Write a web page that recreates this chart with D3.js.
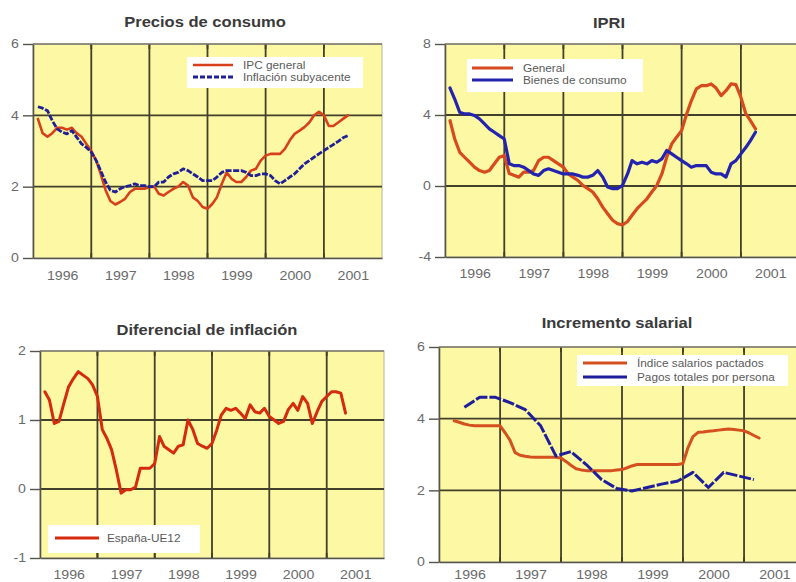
<!DOCTYPE html>
<html>
<head>
<meta charset="utf-8">
<script src="https://cdn.jsdelivr.net/npm/d3@7"></script>
<style>
  body { margin: 0; background: #ffffff; }
  svg { display: block; font-family: Arial, "Liberation Sans", sans-serif; }
</style>
</head>
<body>
<svg id="chart" width="796" height="582"></svg>
<script>
// ---- Data ----------------------------------------------------------------
const yearLabels = ["1996", "1997", "1998", "1999", "2000", "2001"];

// Precios de consumo (% interanual), mensual desde enero 1996
const ipcStart = "1996-01";
const ipcGeneral = [
  3.9, 3.5, 3.4, 3.5, 3.65, 3.65, 3.6, 3.65, 3.5, 3.4, 3.2, 3.0,
  2.73, 2.36, 1.9, 1.6, 1.5, 1.57, 1.66, 1.85, 1.94, 1.94, 1.94, 1.99,
  2.0, 1.8, 1.75, 1.85, 1.94, 2.0, 2.13, 2.03, 1.7, 1.6, 1.43, 1.38,
  1.52, 1.7, 2.08, 2.4, 2.22, 2.13, 2.13, 2.27, 2.45, 2.5, 2.73, 2.87,
  2.92, 2.92, 2.92, 3.06, 3.3, 3.48, 3.57, 3.67, 3.8, 4.0, 4.1, 4.0,
  3.7, 3.7, 3.8, 3.9, 4.0
];
const inflacionSubyacente = [
  4.24, 4.2, 4.13, 3.85, 3.62, 3.53, 3.48, 3.57, 3.39, 3.2, 3.1, 2.97,
  2.73, 2.45, 2.13, 1.9, 1.85, 1.94, 2.0, 2.03, 2.08, 2.03, 2.03, 2.0,
  2.0, 2.13, 2.13, 2.27, 2.36, 2.4, 2.5, 2.45, 2.36, 2.27, 2.17, 2.17,
  2.17, 2.27, 2.4, 2.45, 2.45, 2.45, 2.45, 2.4, 2.31, 2.31, 2.36, 2.36,
  2.31, 2.17, 2.08, 2.17, 2.27, 2.36, 2.5, 2.64, 2.73, 2.83, 2.92, 3.01,
  3.1, 3.18, 3.27, 3.37, 3.43
];

// IPRI, mensual desde enero 1996
const ipriStart = "1996-01";
const ipriGeneral = [
  3.68, 2.65, 1.9, 1.62, 1.34, 1.06, 0.87, 0.78, 0.87, 1.25, 1.62, 1.71,
  0.7, 0.6, 0.5, 0.78, 0.78, 0.87, 1.43, 1.62, 1.62, 1.43, 1.25, 1.06,
  0.68, 0.5, 0.31, 0.03, -0.15, -0.34, -0.72, -1.19, -1.56, -1.93, -2.12, -2.2,
  -2.0, -1.65, -1.28, -1.0, -0.72, -0.34, 0.03, 0.68, 1.62, 2.37, 2.75, 3.12,
  4.06, 4.8, 5.47, 5.65, 5.65, 5.75, 5.52, 5.09, 5.37, 5.75, 5.71, 5.0,
  4.06, 3.68, 3.22
];
const ipriBienesConsumo = [
  5.52, 4.9, 4.15, 4.06, 4.06, 3.97, 3.78, 3.5, 3.22, 3.03, 2.84, 2.65,
  1.25, 1.15, 1.15, 1.06, 0.87, 0.68, 0.6, 0.87, 0.97, 0.87, 0.78, 0.68,
  0.68, 0.68, 0.6, 0.5, 0.5, 0.6, 0.87, 0.5, -0.06, -0.15, -0.15, 0.03,
  0.68, 1.43, 1.25, 1.34, 1.25, 1.43, 1.34, 1.53, 2.0, 1.81, 1.62, 1.43,
  1.25, 1.06, 1.15, 1.15, 1.15, 0.78, 0.68, 0.68, 0.5, 1.25, 1.43, 1.81,
  2.18, 2.56, 3.03
];

// Diferencial de inflación España-UE12, mensual desde enero 1996
const difStart = "1996-01";
const difEspanaUE12 = [
  1.41, 1.29, 0.95, 0.98, 1.24, 1.48, 1.6, 1.7, 1.65, 1.6, 1.51, 1.34,
  0.86, 0.74, 0.57, 0.28, -0.06, -0.01, -0.01, 0.03, 0.3, 0.3, 0.3, 0.37,
  0.76, 0.62, 0.57, 0.52, 0.62, 0.64, 1.0, 0.86, 0.66, 0.62, 0.59, 0.66,
  0.86, 1.07, 1.17, 1.14, 1.17, 1.1, 1.02, 1.22, 1.12, 1.1, 1.17, 1.05,
  1.0, 0.95, 0.98, 1.15, 1.24, 1.14, 1.34, 1.24, 0.95, 1.12, 1.27, 1.34,
  1.41, 1.41, 1.39, 1.1
];

// Incremento salarial: convenios (mensual desde marzo 1996), pagos (trimestral desde I-1996)
const pactadosStart = "1996-03";
const salariosPactados = [
  3.94, 3.9, 3.85, 3.82, 3.8, 3.8, 3.8, 3.8, 3.8, 3.8,
  3.6, 3.4, 3.05, 2.98, 2.95, 2.93, 2.92, 2.92, 2.92, 2.92, 2.92, 2.9,
  2.8, 2.7, 2.6, 2.57, 2.55, 2.55, 2.55, 2.55, 2.55, 2.55, 2.57, 2.58,
  2.63, 2.68, 2.72, 2.72, 2.72, 2.72, 2.72, 2.72, 2.72, 2.72, 2.72, 2.75,
  3.2, 3.5, 3.62, 3.63, 3.65, 3.66, 3.68, 3.7, 3.71, 3.7, 3.68, 3.66,
  3.6, 3.53, 3.46
];
const pagosStart = "1996-03";
const pagosPorPersona = [
  4.32, 4.6, 4.6, 4.45,
  4.25, 3.8, 2.96, 3.08,
  2.72, 2.3, 2.05, 1.98,
  2.08, 2.18, 2.26, 2.5,
  2.08, 2.5, 2.4, 2.3
];

// ---- Drawing -------------------------------------------------------------
const svg = d3.select("#chart");
const parseMonth = d3.timeParse("%Y-%m");
const STRETCH = 1.18;

const BG = "#fcf8a4";
const GRID = "#423f2b";
const AXIS = "#55544a";

// each observation is placed at the end of its period
function toPoints(values, start, stepMonths) {
  const s = parseMonth(start);
  return values.map((v, i) => ({ date: d3.timeMonth.offset(s, i * stepMonths + stepMonths), value: v }));
}

// plain hyphen for negative tick labels
const tickFmt = d => (d < 0 ? "-" : "") + Math.abs(d);

const panels = [
  {
    title: "Precios de consumo", titleX: 205, titleY: 27,
    left: 33, right: 382, top: 44, bottom: 258,
    yDomain: [0, 6], yTicks: [0, 2, 4, 6], labelY: 280,
    legend: { x: 187, y: 57, w: 176, h: 31, lineX: 193, lineLen: 40, textX: 243, rowY: [65, 77] },
    series: [
      { name: "IPC general", values: ipcGeneral, start: ipcStart, step: 1, color: "#d8401c", width: 2.6 },
      { name: "Inflación subyacente", values: inflacionSubyacente, start: ipcStart, step: 1, color: "#1f1f96", width: 2.8, dash: "6,1.6", legendDash: "5,2" }
    ]
  },
  {
    title: "IPRI", titleX: 609, titleY: 28,
    left: 445, right: 800, top: 44, bottom: 257,
    yDomain: [-4, 8], yTicks: [-4, 0, 4, 8], labelY: 278,
    legend: { x: 467, y: 59, w: 176, h: 33, lineX: 472, lineLen: 41, textX: 523, rowY: [68, 80] },
    series: [
      { name: "General", values: ipriGeneral, start: ipriStart, step: 1, color: "#d64a1e", width: 3.2 },
      { name: "Bienes de consumo", values: ipriBienesConsumo, start: ipriStart, step: 1, color: "#2323b0", width: 3.2 }
    ]
  },
  {
    title: "Diferencial de inflación", titleX: 207, titleY: 335,
    left: 40, right: 384, top: 351, bottom: 558,
    yDomain: [-1, 2], yTicks: [-1, 0, 1, 2], labelY: 579,
    legend: { x: 48, y: 525, w: 152, h: 28, lineX: 55, lineLen: 44, textX: 107, rowY: [538] },
    series: [
      { name: "España-UE12", values: difEspanaUE12, start: difStart, step: 1, color: "#d42a0e", width: 3.0 }
    ]
  },
  {
    title: "Incremento salarial", titleX: 617, titleY: 328,
    left: 439, right: 805, top: 347, bottom: 562,
    yDomain: [0, 6], yTicks: [0, 2, 4, 6], labelY: 579,
    legend: { x: 577, y: 355, w: 211, h: 31, lineX: 583, lineLen: 44, textX: 637, rowY: [363, 377] },
    series: [
      { name: "Índice salarios pactados", values: salariosPactados, start: pactadosStart, step: 1, color: "#d4501e", width: 3.0 },
      { name: "Pagos totales por persona", values: pagosPorPersona, start: pagosStart, step: 3, color: "#1e1e9a", width: 3.0, dash: "12,2" }
    ]
  }
];

function drawPanel(p) {
  const g = svg.append("g");
  const x = d3.scaleTime()
    .domain([new Date(1996, 0, 1), new Date(2002, 0, 1)])
    .range([p.left, p.right]);
  const y = d3.scaleLinear().domain(p.yDomain).range([p.bottom, p.top]);
  const yearStarts = yearLabels.map(s => new Date(+s, 0, 1));
  const yearMids = yearLabels.map(s => new Date(+s, 6, 2));
  const innerStarts = yearStarts.slice(1);
  const innerY = p.yTicks.slice(1, -1);

  // plot background
  g.append("rect")
    .attr("x", p.left).attr("y", p.top)
    .attr("width", p.right - p.left).attr("height", p.bottom - p.top)
    .attr("fill", BG).attr("stroke", "#b5b399").attr("stroke-width", 1);

  // grid
  g.append("g").selectAll("line").data(innerY).join("line")
    .attr("x1", p.left).attr("x2", p.right)
    .attr("y1", d => y(d)).attr("y2", d => y(d))
    .attr("stroke", GRID).attr("stroke-width", 1.8);
  g.append("g").selectAll("line").data(innerStarts).join("line")
    .attr("x1", d => x(d)).attr("x2", d => x(d))
    .attr("y1", p.top).attr("y2", p.bottom)
    .attr("stroke", GRID).attr("stroke-width", 1.8);

  // legend box (covers grid)
  const L = p.legend;
  const lg = g.append("g");
  lg.append("rect").attr("x", L.x).attr("y", L.y).attr("width", L.w).attr("height", L.h)
    .attr("fill", "#ffffff");
  p.series.forEach((s, i) => {
    lg.append("line")
      .attr("x1", L.lineX).attr("x2", L.lineX + L.lineLen)
      .attr("y1", L.rowY[i]).attr("y2", L.rowY[i])
      .attr("stroke", s.color).attr("stroke-width", s.width)
      .attr("stroke-dasharray", s.legendDash || null);
    lg.append("text")
      .attr("class", "stretch")
      .attr("x", L.textX).attr("y", L.rowY[i] + 3.5)
      .attr("font-size", 10).attr("fill", "#5a5a5a")
      .text(s.name);
  });

  // short tick marks along top and bottom edges at year boundaries
  g.append("g").selectAll("line").data(innerStarts).join("line")
    .attr("x1", d => x(d)).attr("x2", d => x(d))
    .attr("y1", p.top).attr("y2", p.top + 5)
    .attr("stroke", GRID).attr("stroke-width", 1.8);
  g.append("g").selectAll("line").data(innerStarts).join("line")
    .attr("x1", d => x(d)).attr("x2", d => x(d))
    .attr("y1", p.bottom - 5).attr("y2", p.bottom)
    .attr("stroke", GRID).attr("stroke-width", 1.8);

  // top border
  g.append("line").attr("x1", p.left).attr("x2", p.right)
    .attr("y1", p.top).attr("y2", p.top)
    .attr("stroke", "#77766a").attr("stroke-width", 1.4);

  // series lines
  const line = d3.line().x(d => x(d.date)).y(d => y(d.value)).curve(d3.curveLinear);
  p.series.forEach(s => {
    g.append("path")
      .datum(toPoints(s.values, s.start, s.step))
      .attr("d", line)
      .attr("fill", "none")
      .attr("stroke", s.color).attr("stroke-width", s.width)
      .attr("stroke-linejoin", "round")
      .attr("stroke-linecap", s.dash ? "butt" : "round")
      .attr("stroke-dasharray", s.dash || null);
  });

  // y axis
  const yAxis = d3.axisLeft(y).tickValues(p.yTicks).tickSize(10).tickSizeOuter(0)
    .tickPadding(4).tickFormat(tickFmt);
  const ya = g.append("g").attr("transform", `translate(${p.left},0)`).call(yAxis);
  ya.attr("font-family", null);
  ya.select(".domain").attr("stroke", AXIS).attr("stroke-width", 1.6);
  ya.selectAll(".tick line").attr("stroke", AXIS).attr("stroke-width", 1.4);
  ya.selectAll(".tick text").attr("font-size", 12).attr("fill", "#6a6a6a")
    .attr("class", "stretch");

  // x axis (labels centred on each year)
  const xAxis = d3.axisBottom(x).tickValues(yearMids).tickSize(0).tickSizeOuter(0)
    .tickFormat((d, i) => yearLabels[i]);
  const xa = g.append("g").attr("transform", `translate(0,${p.bottom})`).call(xAxis);
  xa.attr("font-family", null);
  xa.select(".domain").attr("stroke", AXIS).attr("stroke-width", 1.6);
  xa.selectAll(".tick text")
    .attr("font-size", 12).attr("fill", "#6a6a6a")
    .attr("dy", null).attr("y", p.labelY - p.bottom)
    .attr("class", "stretch");

  // title
  g.append("text")
    .attr("class", "stretch")
    .attr("x", p.titleX)
    .attr("y", p.titleY)
    .attr("text-anchor", "middle")
    .attr("font-size", 14).attr("font-weight", "bold").attr("fill", "#3a3a3a")
    .text(p.title);
}

panels.forEach(drawPanel);

// horizontally widen every label by the same factor
svg.selectAll("text.stretch").each(function () {
  const w = this.getComputedTextLength();
  d3.select(this).attr("textLength", w * STRETCH).attr("lengthAdjust", "spacingAndGlyphs");
});
</script>
</body>
</html>
